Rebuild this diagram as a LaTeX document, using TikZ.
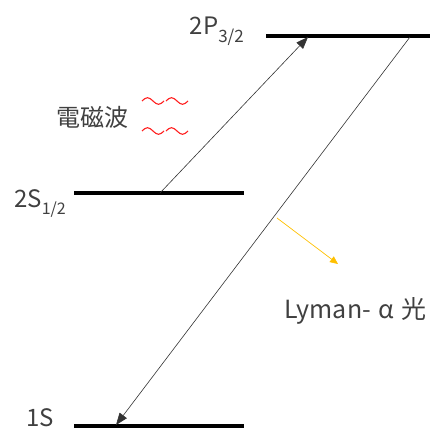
\documentclass[tikz,border=0pt]{standalone}
\usepackage{fontspec}
\setmainfont{Noto Sans CJK JP}
\usetikzlibrary{arrows.meta}
\definecolor{lvText}{HTML}{404040}
\definecolor{lvWave}{HTML}{FF2020}
\definecolor{lvLyman}{HTML}{FFC000}

\begin{document}
\begin{tikzpicture}[x=1pt, y=-1pt,
    level/.style={line width=3.4pt},
    trans/.style={-{Triangle[length=12pt,width=9pt]}, line width=0.6pt, black!80},
    lbl/.style={text=lvText, inner sep=0pt},
    wave/.style={lvWave, line width=1.1pt}]
    \useasboundingbox (0,0) rectangle (430,430);

    % energy levels
    \coordinate (p2a) at (266,36);  \coordinate (p2b) at (430,36);
    \coordinate (s2a) at (74,193);  \coordinate (s2b) at (244,193);
    \coordinate (s1a) at (74,426);  \coordinate (s1b) at (244,426);
    \draw[level] (p2a) -- (p2b);
    \draw[level] (s2a) -- (s2b);
    \draw[level] (s1a) -- (s1b);

    \node[lbl, font=\fontsize{24}{24}\selectfont, anchor=base east] (p2lbl) at (244,35)
        {2P\raisebox{-0.3em}{\fontsize{17}{17}\selectfont 3/2}};
    \node[lbl, font=\fontsize{24}{24}\selectfont, anchor=base east] (s2lbl) at (66,207)
        {2S\raisebox{-0.3em}{\fontsize{16}{16}\selectfont 1/2}};
    \node[lbl, font=\fontsize{24}{24}\selectfont, anchor=base east] (s1lbl) at (54,426) {1S};

    % transitions
    \coordinate (upA) at (160,193);  \coordinate (upB) at (308,37);
    \coordinate (dnA) at (410,37);   \coordinate (dnB) at (116,425);
    \draw[trans] (upA) -- (upB);
    \draw[trans] (dnA) -- (dnB);

    % radiation
    \node[lbl, font=\fontsize{24}{24}\selectfont] (emw) at (92,117) {電磁波};
    \foreach \wx/\wy in {142/101, 166/101, 142/131, 166/131}
        \draw[wave] (\wx,\wy) sin ++(5.5,-3.3) cos ++(5.5,3.3) sin ++(5.5,3.3) cos ++(5.5,-3.3);

    \coordinate (lyA) at (277,218);  \coordinate (lyB) at (338,264);
    \draw[-{Triangle[length=8pt,width=7pt]}, lvLyman, line width=0.7pt] (lyA) -- (lyB);
    \node[lbl, font=\fontsize{25}{25}\selectfont, anchor=base west] (lyman) at (284,318)
        {Lyman-\hspace{0.3em}α\hspace{0.3em}光};
\end{tikzpicture}
\end{document}
